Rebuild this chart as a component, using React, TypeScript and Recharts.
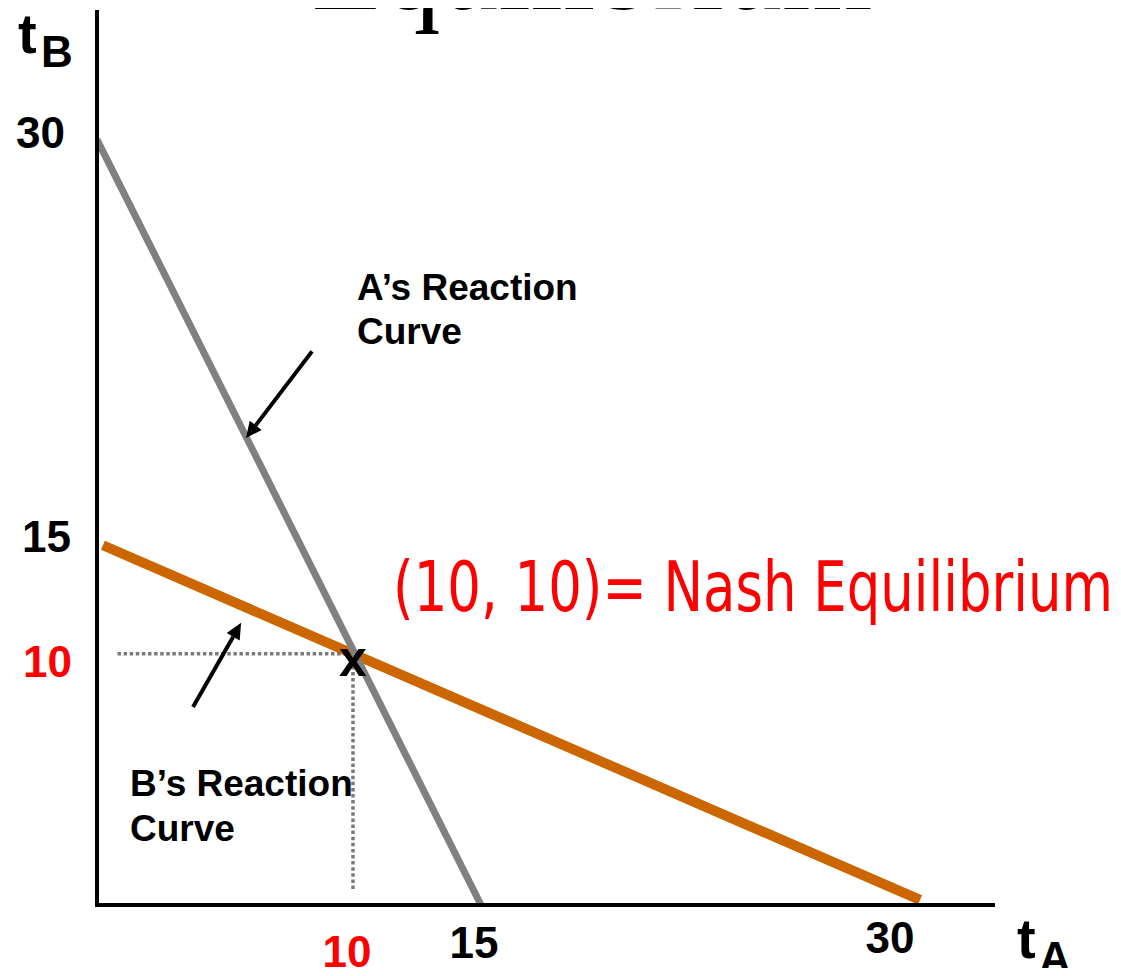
import React from "react";
import { LineChart, Line, XAxis, YAxis, Scatter, ReferenceLine } from "recharts";

const xTicks = [10, 15, 30];
const yTicks = [10, 15, 30];
const nashValue = 10;

// A's reaction curve runs from (0, 30) down to (15, 0)
const reactionA = [
  { x: 0, y: 30 },
  { x: 15, y: 0 },
];
// B's reaction curve, shallower, ending past 30 on t_A
const reactionB = [
  { x: 0.23, y: 14.1 },
  { x: 32.15, y: 0.2 },
];
const nashPoint = [{ x: 10, y: 10 }];
const guideH = [
  { x: 0.8, y: 9.85 },
  { x: 10, y: 9.85 },
];
const guideV = [
  { x: 10, y: 9.85 },
  { x: 10, y: 0.6 },
];
// pointer arrows, tail first then tip
const arrowA = [
  { x: 8.4, y: 21.7 },
  { x: 5.82, y: 18.3 },
];
const arrowB = [
  { x: 3.75, y: 7.76 },
  { x: 5.63, y: 11.06 },
];

const W = 1105;
const H = 960;
const PLOT_BOTTOM = 897;
const RED = "#ff0000";
const SANS = "'Liberation Sans', Arial, sans-serif";

const xTickShift: Record<number, [number, number]> = {
  10: [-6, 62],
  15: [-7, 53],
  30: [25, 48],
};
const yTickShift: Record<number, [number, number]> = {
  30: [57, 8],
  15: [63, 30],
  10: [64, 27],
};

function XTick(props: any) {
  const { x, payload } = props;
  const v = payload.value;
  const [dx, base] = xTickShift[v] ?? [0, 50];
  return (
    <text
      x={x + dx}
      y={PLOT_BOTTOM + base}
      textAnchor="middle"
      fontFamily={SANS}
      fontWeight="bold"
      fontSize={44}
      fill={v === nashValue ? RED : "#000"}
    >
      {v}
    </text>
  );
}

function YTick(props: any) {
  const { y, payload } = props;
  const v = payload.value;
  const [right, dy] = yTickShift[v] ?? [60, 15];
  return (
    <text
      x={right}
      y={y + dy}
      textAnchor="end"
      fontFamily={SANS}
      fontWeight="bold"
      fontSize={44}
      fill={v === nashValue ? RED : "#000"}
    >
      {v}
    </text>
  );
}

function Arrow(props: any) {
  const { x1, y1, x2, y2 } = props;
  const ang = Math.atan2(y2 - y1, x2 - x1);
  const len = 16;
  const half = 7.5;
  const bx = x2 - len * Math.cos(ang);
  const by = y2 - len * Math.sin(ang);
  const px = -Math.sin(ang) * half;
  const py = Math.cos(ang) * half;
  return (
    <g>
      <line x1={x1} y1={y1} x2={bx} y2={by} stroke="#000" strokeWidth={4} />
      <polygon points={`${x2},${y2} ${bx + px},${by + py} ${bx - px},${by - py}`} fill="#000" />
    </g>
  );
}

function NashMark(props: any) {
  const { cx, cy } = props;
  return (
    <text x={cx} y={cy + 26} textAnchor="middle" fontFamily={SANS} fontWeight="bold" fontSize={50} fill="#000">
      x
    </text>
  );
}

export default function App() {
  return (
    <div style={{ position: "relative", width: W, height: H }}>
      <LineChart width={W} height={H} margin={{ top: 4, right: 120, left: 0, bottom: 0 }}>
        <XAxis
          type="number"
          dataKey="x"
          domain={[0, 35]}
          ticks={xTicks}
          tick={<XTick />}
          tickLine={false}
          axisLine={{ stroke: "#000", strokeWidth: 4, strokeLinecap: "square" }}
          height={63}
          allowDataOverflow
        />
        <YAxis
          type="number"
          dataKey="y"
          domain={[0, 35]}
          ticks={yTicks}
          tick={<YTick />}
          tickLine={false}
          axisLine={{ stroke: "#000", strokeWidth: 4, strokeLinecap: "square" }}
          width={89}
          allowDataOverflow
        />
        <Line data={guideH} dataKey="y" stroke="#7a7a7a" strokeWidth={3.5} strokeDasharray="3.5 2.6" dot={false} isAnimationActive={false} />
        <Line data={guideV} dataKey="y" stroke="#7a7a7a" strokeWidth={3.5} strokeDasharray="3.5 2.6" dot={false} isAnimationActive={false} />
        <Line data={reactionB} dataKey="y" stroke="#cc6600" strokeWidth={10} dot={false} isAnimationActive={false} />
        <Scatter data={nashPoint} dataKey="y" shape={<NashMark />} isAnimationActive={false} />
        <Line data={reactionA} dataKey="y" stroke="#808080" strokeWidth={7} dot={false} isAnimationActive={false} />
        <ReferenceLine segment={arrowA} shape={(p: any) => <Arrow {...p} />} />
        <ReferenceLine segment={arrowB} shape={(p: any) => <Arrow {...p} />} />
      </LineChart>
      <svg
        width={1121}
        height={976}
        style={{ position: "absolute", left: -8, top: -8, pointerEvents: "none" }}
      >
        <text x={592} y={9} textAnchor="middle" fontFamily="'Liberation Serif', 'Times New Roman', serif" fontSize={116} fill="#000">
          Equilibrium
        </text>
        <g fontFamily={SANS} fontWeight="bold" fill="#000">
          <text x={18} y={53} fontSize={56}>t</text>
          <text x={41} y={67} fontSize={44}>B</text>
          <text x={1017} y={958} fontSize={56}>t</text>
          <text x={1039} y={973} fontSize={44}>A</text>
        </g>
        <g fontFamily={SANS} fontWeight="bold" fontSize={37} fill="#000">
          <text x={357} y={300}>A’s Reaction</text>
          <text x={357} y={344}>Curve</text>
          <text x={130} y={796}>B’s Reaction</text>
          <text x={130} y={841}>Curve</text>
        </g>
        <text
          x={393}
          y={611}
          fontFamily="'Liberation Sans Narrow', 'DejaVu Sans Condensed', 'Liberation Sans', sans-serif"
          fontSize={70}
          fill={RED}
          textLength={720}
          lengthAdjust="spacingAndGlyphs"
        >
          (10, 10)= Nash Equilibrium
        </text>
      </svg>
    </div>
  );
}
